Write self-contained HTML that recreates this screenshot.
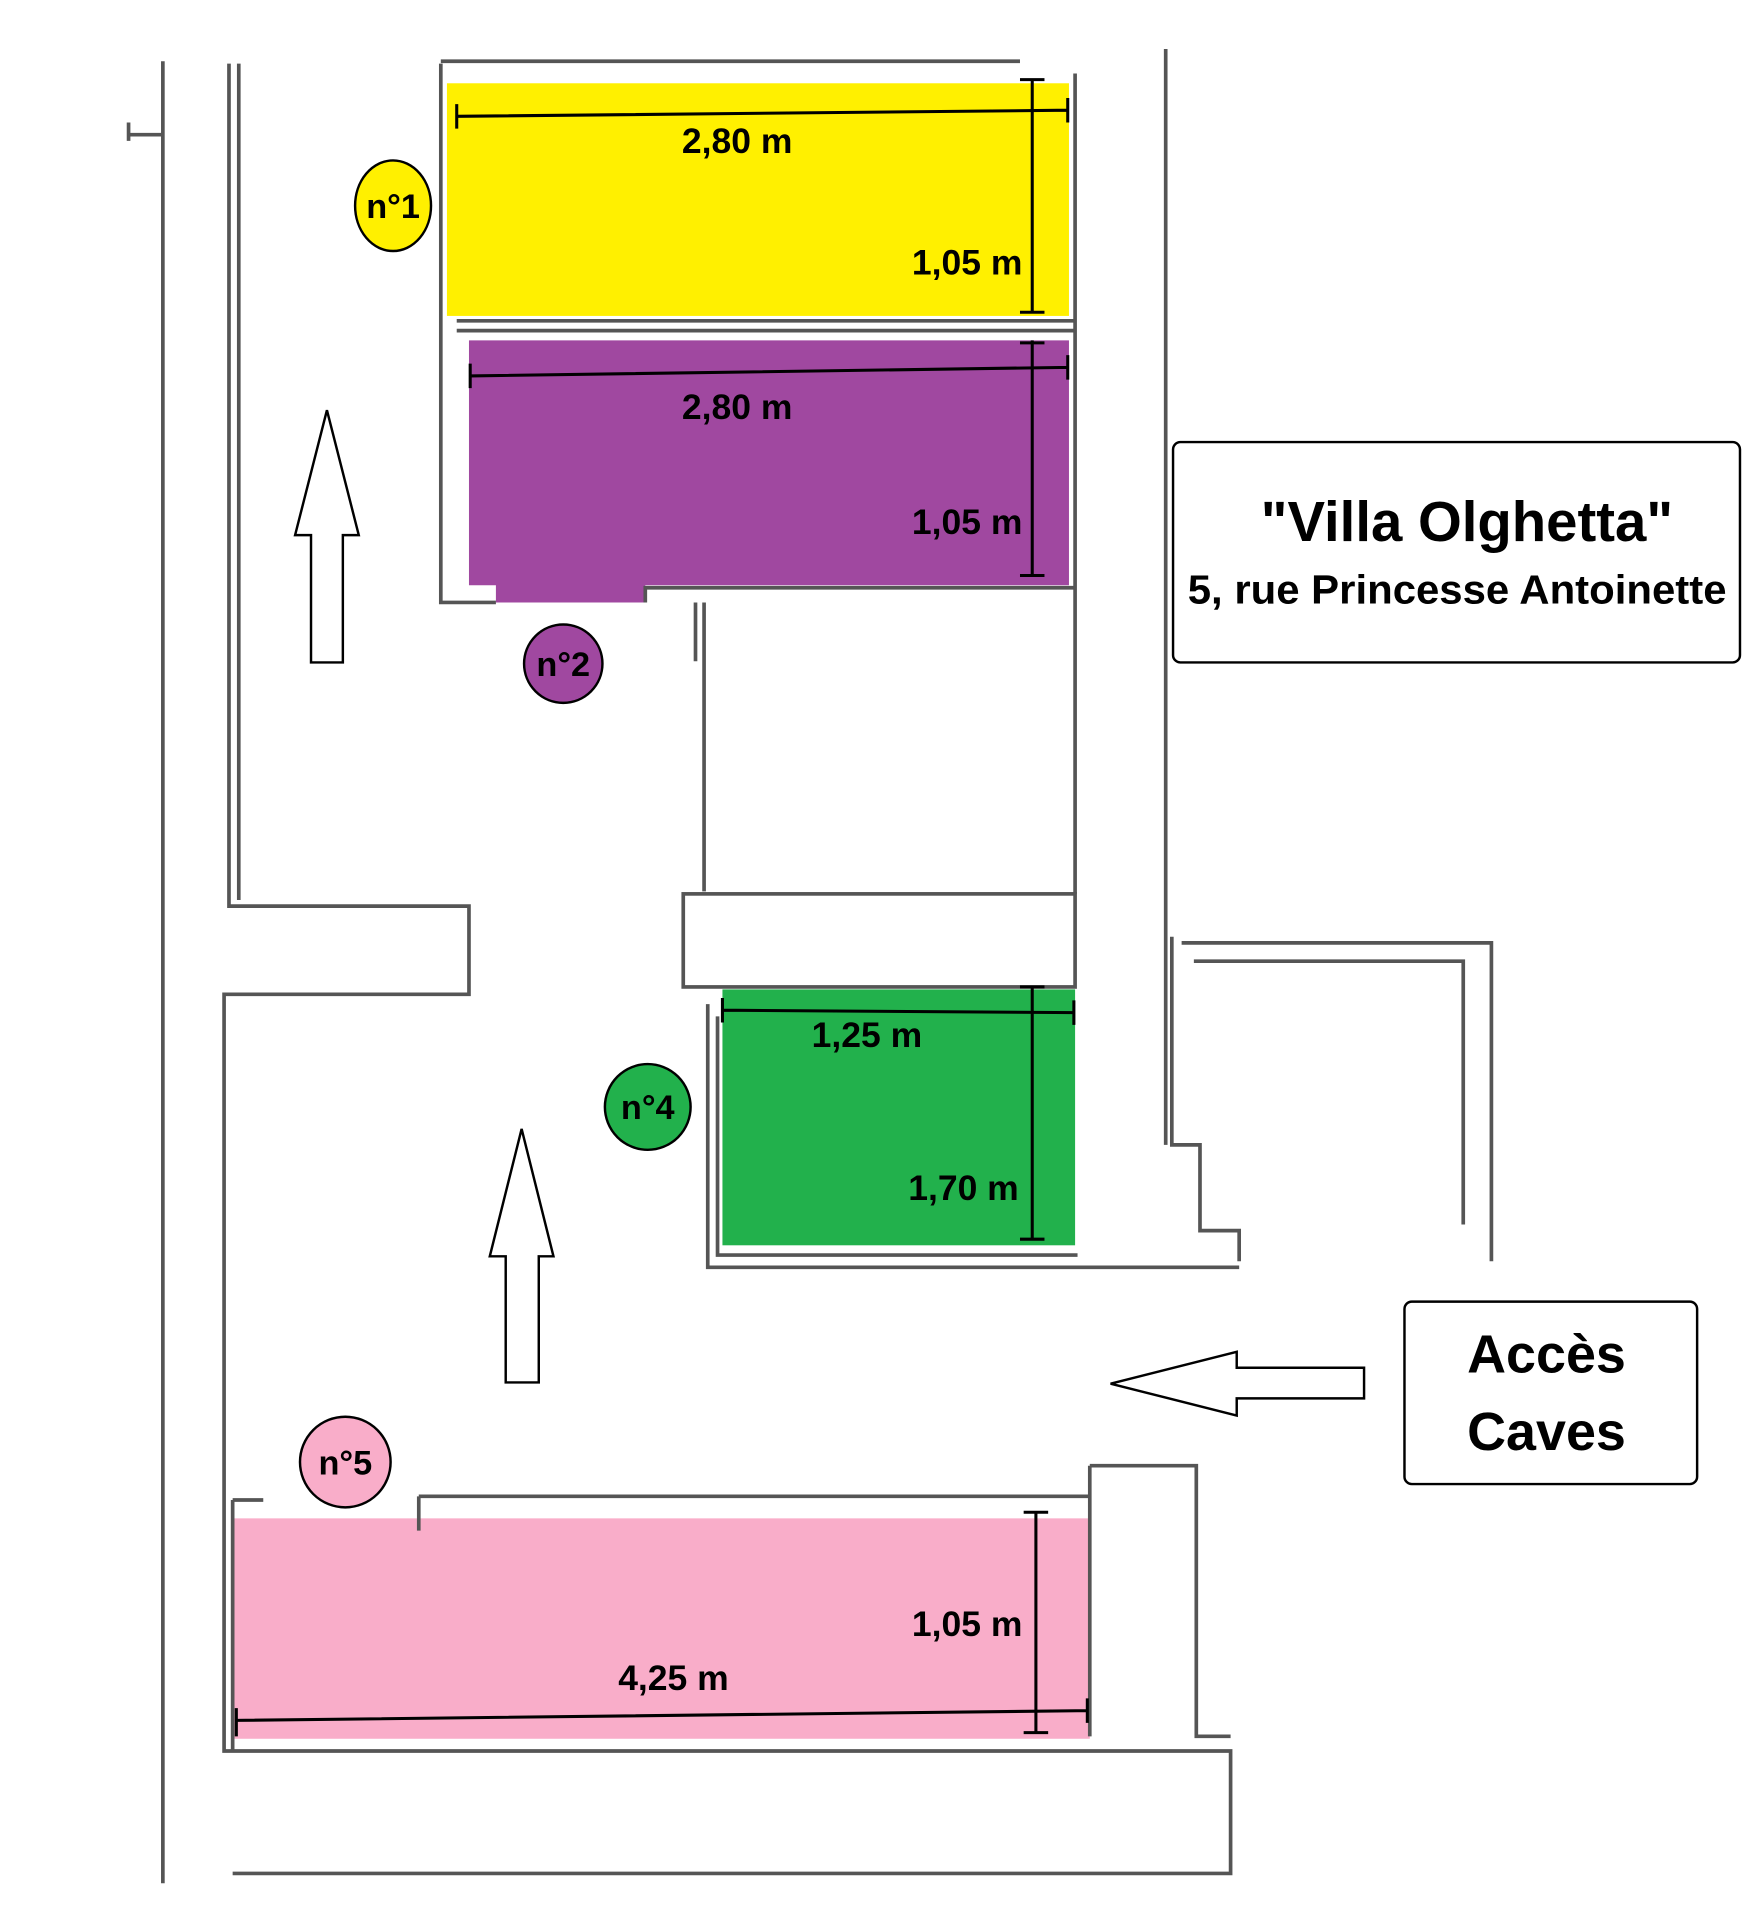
<!DOCTYPE html>
<html><head><meta charset="utf-8"><style>
html,body{margin:0;padding:0;background:#fff}
svg{display:block}
text{font-family:"Liberation Sans",sans-serif;font-weight:bold;fill:#000}
</style></head><body>
<svg width="1751" height="1920" viewBox="0 0 1430 1568" xmlns="http://www.w3.org/2000/svg">
<rect width="1430" height="1568" fill="#fff"/>
<rect x="365" y="68" width="508" height="190" fill="#FFF000"/>
<path d="M383 278 H873 V478 H527 V492 H405 V478 H383 Z" fill="#A048A0"/>
<rect x="590" y="808" width="288" height="209" fill="#22B14C"/>
<rect x="190" y="1240" width="700" height="180" fill="#F9ADC9"/>
<g stroke="#555" stroke-width="3" fill="none">
<path d="M133 50 V1538 M105 110 H133 M105 100 V115"/>
<path d="M187 52 V740 H383 V812 H183 V1430 H1005 V1530 H190"/>
<path d="M195 52 V735"/>
<path d="M360 50 H833 M360 52 V492 H405 M527 492 V480 H878"/>
<path d="M373 262 H878 M373 270 H878"/>
<path d="M878 60 V730 M952 40 V935"/>
<rect x="558" y="730" width="320" height="76"/>
<path d="M575 492 V728 M568 492 V540"/>
<path d="M578 820 V1035 H1012 M586 830 V1025 H880"/>
<path d="M957 765 V935 H980 V1005 H1012 V1030 M965 770 H1218 V1030 M975 785 H1195 V1000"/>
<path d="M190 1225 V1430 M190 1225 H215 M342 1222 H890 M342 1222 V1250 M890 1197 H977 V1418 H1005 M890 1197 V1418"/>
</g>
<g stroke="#000" stroke-width="2.5" fill="none">
<path d="M373 95 L872 90 M373 85 V105 M872 80 V100"/>
<path d="M843 65 V255 M833 65 H853 M833 255 H853"/>
<path d="M384 307 L872 300 M384 297 V317 M872 290 V310"/>
<path d="M843 278 V470 M833 280 H853 M833 470 H853"/>
<path d="M590 825 L877 827 M590 815 V835 M877 817 V837"/>
<path d="M843 806 V1012 M833 806 H853 M833 1012 H853"/>
<path d="M846 1235 V1415 M836 1235 H856 M836 1415 H856"/>
<path d="M193 1405 L888 1397 M193 1395 V1418 M888 1387 V1407"/>
</g>
<g font-size="29">
<text x="602" y="125" text-anchor="middle">2,80 m</text>
<text x="835" y="224" text-anchor="end">1,05 m</text>
<text x="602" y="342" text-anchor="middle">2,80 m</text>
<text x="835" y="436" text-anchor="end">1,05 m</text>
<text x="708" y="855" text-anchor="middle">1,25 m</text>
<text x="832" y="980" text-anchor="end">1,70 m</text>
<text x="835" y="1336" text-anchor="end">1,05 m</text>
<text x="550" y="1380" text-anchor="middle">4,25 m</text>
</g>
<g stroke="#000" stroke-width="2">
<ellipse cx="321" cy="168" rx="31" ry="37" fill="#FFF000"/>
<circle cx="460" cy="542" r="32" fill="#A048A0"/>
<circle cx="529" cy="904" r="35" fill="#22B14C"/>
<circle cx="282" cy="1194" r="37" fill="#F9ADC9"/>
</g>
<g font-size="28" text-anchor="middle">
<text x="321" y="178">n°1</text>
<text x="460" y="552">n°2</text>
<text x="529" y="914">n°4</text>
<text x="282" y="1204">n°5</text>
</g>
<g stroke="#000" stroke-width="2" fill="#fff">
<path d="M267 335 L293 437 H280 V541 H254 V437 H241 Z"/>
<path d="M426 922 L452 1026 H440 V1129 H413 V1026 H400 Z"/>
<path d="M907 1130 L1010 1104 V1117 H1114 V1142 H1010 V1156 Z"/>
</g>
<rect x="958" y="361" width="463" height="180" rx="6" fill="#fff" stroke="#000" stroke-width="2"/>
<text x="1198" y="442" font-size="46" text-anchor="middle">"Villa Olghetta"</text>
<text x="1190" y="493" font-size="33" text-anchor="middle" textLength="440" lengthAdjust="spacingAndGlyphs">5, rue Princesse Antoinette</text>
<rect x="1147" y="1063" width="239" height="149" rx="6" fill="#fff" stroke="#000" stroke-width="2"/>
<text x="1263" y="1121" font-size="44" text-anchor="middle">Accès</text>
<text x="1263" y="1184" font-size="44" text-anchor="middle">Caves</text>
</svg>
</body></html>
